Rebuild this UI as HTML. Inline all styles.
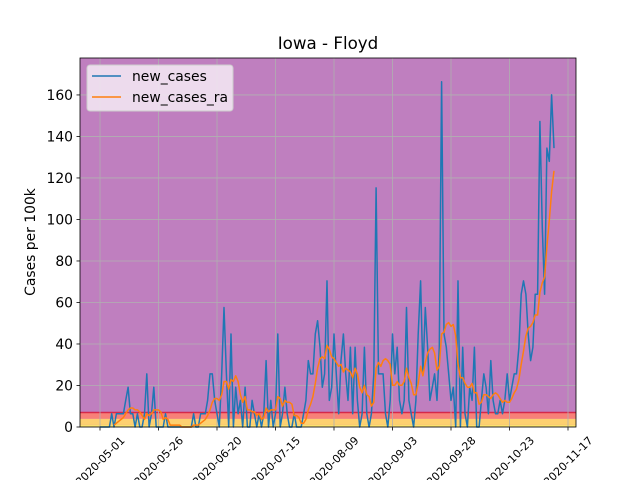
<!DOCTYPE html>
<html><head><meta charset="utf-8"><style>
body{margin:0;background:#fff;}
svg{display:block;font-family:"DejaVu Sans","Liberation Sans",sans-serif;}
</style></head><body>
<svg id="chart" width="640" height="480"></svg>
<script>
const dates=["2020-05-01","2020-05-26","2020-06-20","2020-07-15","2020-08-09","2020-09-03","2020-09-28","2020-10-23","2020-11-17"];
const tickDays=[0,25,50,75,100,125,150,175,200];
const yTicks=[0,20,40,60,80,100,120,140,160];
const newCases=[0,0,0,0,0,6.4,0,6.4,6.4,6.4,6.4,12.8,19.2,6.4,6.4,0,6.4,0,0,6.4,25.6,0,6.4,19.2,0,0,0,0,6.4,0,
0,0,0,0,0,0,0,0,0,0,6.4,0,0,6.4,6.4,6.4,12.8,25.6,25.6,12.8,6.4,0,25.6,57.6,25.6,0,44.8,0,19.2,6.4,
12.8,0,19.2,0,0,12.8,6.4,0,6.4,0,6.4,32,0,12.8,0,6.4,44.8,0,6.4,19.2,6.4,0,0,6.4,0,0,0,6.4,12.8,32,
25.6,25.6,44.8,51.2,38.4,19.2,25.6,70.4,12.8,19.2,44.8,25.6,6.4,32,44.8,25.6,12.8,38.4,6.4,38.4,12.8,0,6.4,38.4,6.4,0,6.4,25.6,115.2,25.6,
25.6,25.6,6.4,0,12.8,44.8,25.6,38.4,12.8,6.4,12.8,57.6,12.8,6.4,0,12.8,44.8,70.4,25.6,57.6,38.4,12.8,19.2,25.6,12.8,38.4,166.4,44.8,38.4,25.6,
12.8,19.2,0,70.4,0,38.4,6.4,0,19.2,12.8,38.4,0,0,12.8,25.6,19.2,6.4,32,12.8,6.4,6.4,12.8,6.4,12.8,25.6,12.8,19.2,25.6,25.6,38.4,
64,70.4,64,44.8,32,38.4,64,64,147.2,96,64,134.4,128,160,134.4];
const bands=[[0,1,"#fde26c"],[1,4,"#fdd070"],[4,7,"#f88078"]];
const yMax=177.8;
</script>
<script>
(function(){
const svg=document.getElementById('chart');const NS="http://www.w3.org/2000/svg";
const L=80,R=576,T=58,B=427;
const X=d=>100+d*(58.5/25);
const Y=v=>B-(v/yMax)*(B-T);
function mk(t,a,p){const e=document.createElementNS(NS,t);for(const k in a)e.setAttribute(k,a[k]);(p||svg).appendChild(e);return e;}
const bg=mk('rect',{x:L,y:T,width:R-L,height:B-T,fill:'#bf7fbf'});


bands.forEach(b=>{const r=mk('rect',{x:L,y:Y(b[1]),width:R-L,height:Y(b[0])-Y(b[1]),fill:b[2]});

});
const rl=mk('line',{x1:L,x2:R,y1:Y(7),y2:Y(7),stroke:'#d6284a','stroke-width':1.5});


tickDays.forEach((d,i)=>{const x=X(d);if(x>R)return;
const g=mk('line',{x1:x,x2:x,y1:T,y2:B,stroke:'#b0b0b0','stroke-width':0.8});


mk('line',{x1:x,x2:x,y1:B,y2:B+3.5,stroke:'#000','stroke-width':0.8});
const cy=B+34;
const t=mk('text',{x:x,y:cy+4,'font-size':11,'text-anchor':'middle',transform:`rotate(-45 ${x} ${cy})`});
t.textContent=dates[i];

});
yTicks.forEach(v=>{const y=Y(v);
const g=mk('line',{x1:L,x2:R,y1:y,y2:y,stroke:'#b0b0b0','stroke-width':0.8});


mk('line',{x1:L-3.5,x2:L,y1:y,y2:y,stroke:'#000','stroke-width':0.8});
const t=mk('text',{x:L-7,y:y+5,'font-size':13.9,'text-anchor':'end'});t.textContent=v;

});
let p=newCases.map((v,i)=>X(i).toFixed(1)+','+Y(v).toFixed(1)).join(' ');
const l1=mk('polyline',{points:p,fill:'none',stroke:'#1f77b4','stroke-width':1.5,'stroke-linejoin':'round'});


const ra=[];for(let i=6;i<newCases.length;i++){let s=0;for(let j=i-6;j<=i;j++)s+=newCases[j];ra.push(X(i).toFixed(1)+','+Y(s/7).toFixed(1));}
const l2=mk('polyline',{points:ra.join(' '),fill:'none',stroke:'#ff7f0e','stroke-width':1.5,'stroke-linejoin':'round'});


const fr=mk('rect',{x:L,y:T,width:R-L,height:B-T,fill:'none',stroke:'#000','stroke-width':0.8});


const lg=mk('g',{});


mk('rect',{x:87,y:65,width:146,height:46,rx:3,fill:'#f2e6f2','fill-opacity':0.9,stroke:'#ccc'},lg);
mk('line',{x1:92,x2:121,y1:76,y2:76,stroke:'#1f77b4','stroke-width':1.5},lg);
mk('line',{x1:92,x2:121,y1:97,y2:97,stroke:'#ff7f0e','stroke-width':1.5},lg);
const a=mk('text',{x:132,y:81,'font-size':13.9},lg);a.textContent='new_cases';


const b=mk('text',{x:132,y:102,'font-size':13.9},lg);b.textContent='new_cases_ra';


const tt=mk('text',{x:328,y:49,'font-size':16.7,'text-anchor':'middle'});tt.textContent='Iowa - Floyd';


const yt=mk('text',{x:35,y:242,'font-size':13.9,'text-anchor':'middle',transform:'rotate(-90 35 242)'});yt.textContent='Cases per 100k';


})();
</script>
</body></html>
